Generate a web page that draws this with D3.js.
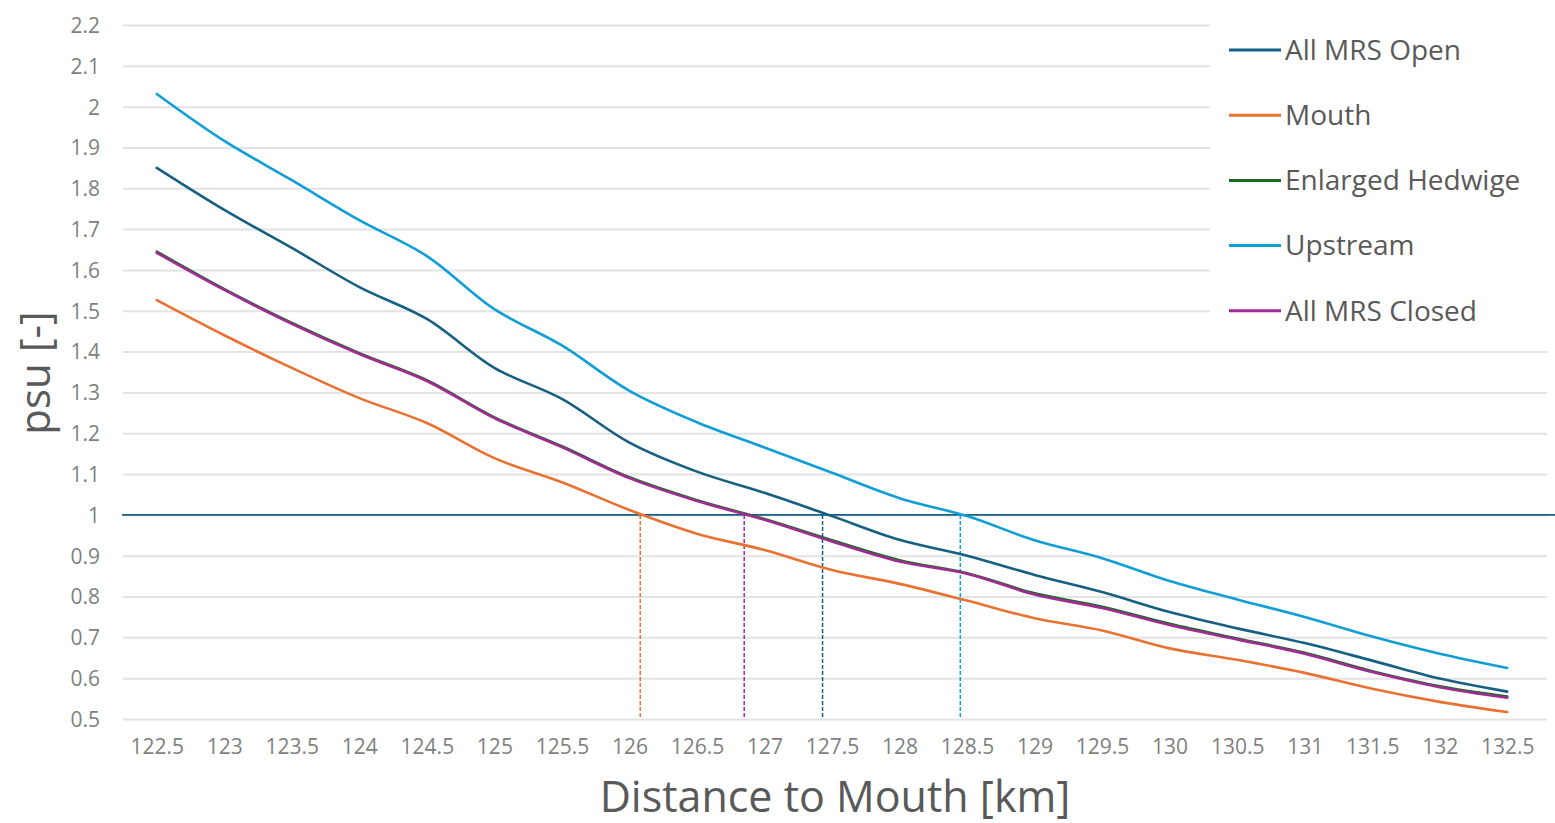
<!DOCTYPE html>
<html lang="en">
<head>
    <meta charset="UTF-8">
    <title>psu vs distance</title>
    <script src="https://cdn.jsdelivr.net/npm/d3@7/dist/d3.min.js"></script>
    <style>
        body { margin: 0; background: #fff; }
        text { font-family: "Open Sans", "Noto Sans", sans-serif; }
    </style>
</head>
<body>
<script>
    var width = 1555;
    var height = 823;

    // data
    var distances = [122.5, 123, 123.5, 124, 124.5, 125, 125.5, 126, 126.5, 127, 127.5,
                     128, 128.5, 129, 129.5, 130, 130.5, 131, 131.5, 132, 132.5];
    var allOpen   = [1.850, 1.747, 1.654, 1.558, 1.480, 1.360, 1.284, 1.177, 1.106, 1.054, 0.997,
                     0.939, 0.900, 0.853, 0.811, 0.762, 0.722, 0.686, 0.643, 0.599, 0.567];
    var mouth     = [1.526, 1.440, 1.360, 1.286, 1.225, 1.139, 1.080, 1.012, 0.954, 0.914, 0.865,
                     0.831, 0.790, 0.747, 0.717, 0.673, 0.645, 0.613, 0.574, 0.542, 0.517];
    var hedwige   = [1.645, 1.553, 1.470, 1.396, 1.330, 1.239, 1.168, 1.092, 1.036, 0.990, 0.938,
                     0.889, 0.857, 0.808, 0.775, 0.733, 0.697, 0.662, 0.617, 0.580, 0.555];
    var upstream  = [2.031, 1.916, 1.820, 1.722, 1.634, 1.504, 1.415, 1.304, 1.227, 1.165, 1.103,
                     1.041, 0.997, 0.938, 0.894, 0.838, 0.793, 0.750, 0.702, 0.660, 0.625];
    var allClosed = [1.642, 1.551, 1.468, 1.394, 1.328, 1.237, 1.166, 1.090, 1.034, 0.988, 0.935,
                     0.886, 0.856, 0.805, 0.772, 0.730, 0.695, 0.660, 0.615, 0.578, 0.552];

    var seriesNames  = ["All MRS Open", "Mouth", "Enlarged Hedwige", "Upstream", "All MRS Closed"];
    var seriesValues = [allOpen, mouth, hedwige, upstream, allClosed];
    var seriesColors = ["#156082", "#E97132", "#196B24", "#0F9ED5", "#A02B93"];

    // where each curve crosses 1 psu (dashed markers)
    var crossings      = [126.08, 126.85, 127.43, 128.45];
    var crossingColors = ["#E97132", "#A02B93", "#156082", "#0F9ED5"];

    var yTicks = [0.5, 0.6, 0.7, 0.8, 0.9, 1, 1.1, 1.2, 1.3, 1.4, 1.5, 1.6, 1.7, 1.8, 1.9, 2, 2.1, 2.2];
    var threshold = 1;

    var svg = d3.select("body")
                .append("svg")
                .attr("width", width)
                .attr("height", height);

    var x = d3.scaleLinear()
              .domain([122.25, 132.75])
              .range([123, 1541]);

    var y = d3.scaleLinear()
              .domain([0.5, 2.2])
              .range([719, 25]);

    // horizontal gridlines
    var grid = svg.append("g")
                  .attr("transform", "translate(123,0)")
                  .call(d3.axisLeft(y).tickValues(yTicks).tickSize(-1424).tickFormat(""));
    grid.select(".domain").remove();
    grid.selectAll("line").attr("stroke", "#e3e3e3").attr("stroke-width", 2);

    // y tick labels
    var yAxis = svg.append("g")
                   .attr("transform", "translate(100,0)")
                   .call(d3.axisLeft(y).tickValues(yTicks).tickSize(0).tickPadding(0)
                           .tickFormat(d3.format("")));
    yAxis.select(".domain").remove();
    yAxis.selectAll("text")
         .attr("fill", "#7f7f7f")
         .style("font-size", "21px")
         .attr("dy", "0.35em");

    // x tick labels
    var xAxis = svg.append("g")
                   .attr("transform", "translate(0,739)")
                   .call(d3.axisBottom(x).tickValues(distances).tickSize(0).tickPadding(0)
                           .tickFormat(d3.format("")));
    xAxis.select(".domain").remove();
    xAxis.selectAll("text")
         .attr("fill", "#7f7f7f")
         .style("font-size", "21px");

    // legend background (covers gridlines on the right)
    svg.append("rect")
       .attr("x", 1210).attr("y", 0)
       .attr("width", 345).attr("height", 336)
       .attr("fill", "#fff");

    // 1 psu reference line
    svg.append("line")
       .attr("x1", 122).attr("x2", 1555)
       .attr("y1", y(threshold)).attr("y2", y(threshold))
       .attr("stroke", "#156082")
       .attr("stroke-width", 1.8);

    // dashed markers down to the x axis
    svg.selectAll(".cross")
       .data(crossings)
       .enter()
       .append("line")
       .attr("class", "cross")
       .attr("x1", function (d) { return x(d); })
       .attr("x2", function (d) { return x(d); })
       .attr("y1", y(threshold))
       .attr("y2", y(0.5))
       .attr("stroke", function (d, i) { return crossingColors[i]; })
       .attr("stroke-width", 1.5)
       .attr("stroke-dasharray", "4,2");

    var line = d3.line()
                 .x(function (d, i) { return x(distances[i]); })
                 .y(function (d) { return y(d); })
                 .curve(d3.curveCatmullRom.alpha(0.5));

    svg.selectAll(".series")
       .data(seriesValues)
       .enter()
       .append("path")
       .attr("class", "series")
       .attr("d", line)
       .attr("fill", "none")
       .attr("stroke", function (d, i) { return seriesColors[i]; })
       .attr("stroke-width", 2.6)
       .attr("stroke-linejoin", "round")
       .attr("stroke-linecap", "round");

    // legend
    var legend = svg.selectAll(".legend")
                    .data(seriesNames)
                    .enter()
                    .append("g")
                    .attr("class", "legend")
                    .attr("transform", function (d, i) { return "translate(1229," + (50 + i * 65.2) + ")"; });
    legend.append("line")
          .attr("x1", 0).attr("x2", 52)
          .attr("stroke", function (d, i) { return seriesColors[i]; })
          .attr("stroke-width", 3);
    legend.append("text")
          .attr("x", 56)
          .attr("dy", "0.35em")
          .attr("fill", "#595959")
          .style("font-size", "28px")
          .text(function (d) { return d; });

    // axis titles
    svg.append("text")
       .attr("x", 835).attr("y", 812)
       .attr("text-anchor", "middle")
       .attr("fill", "#595959")
       .style("font-size", "43px")
       .text("Distance to Mouth [km]");

    svg.append("text")
       .attr("transform", "translate(50,373) rotate(-90)")
       .attr("text-anchor", "middle")
       .attr("fill", "#595959")
       .style("font-size", "42px")
       .text("psu [-]");
</script>
</body>
</html>
